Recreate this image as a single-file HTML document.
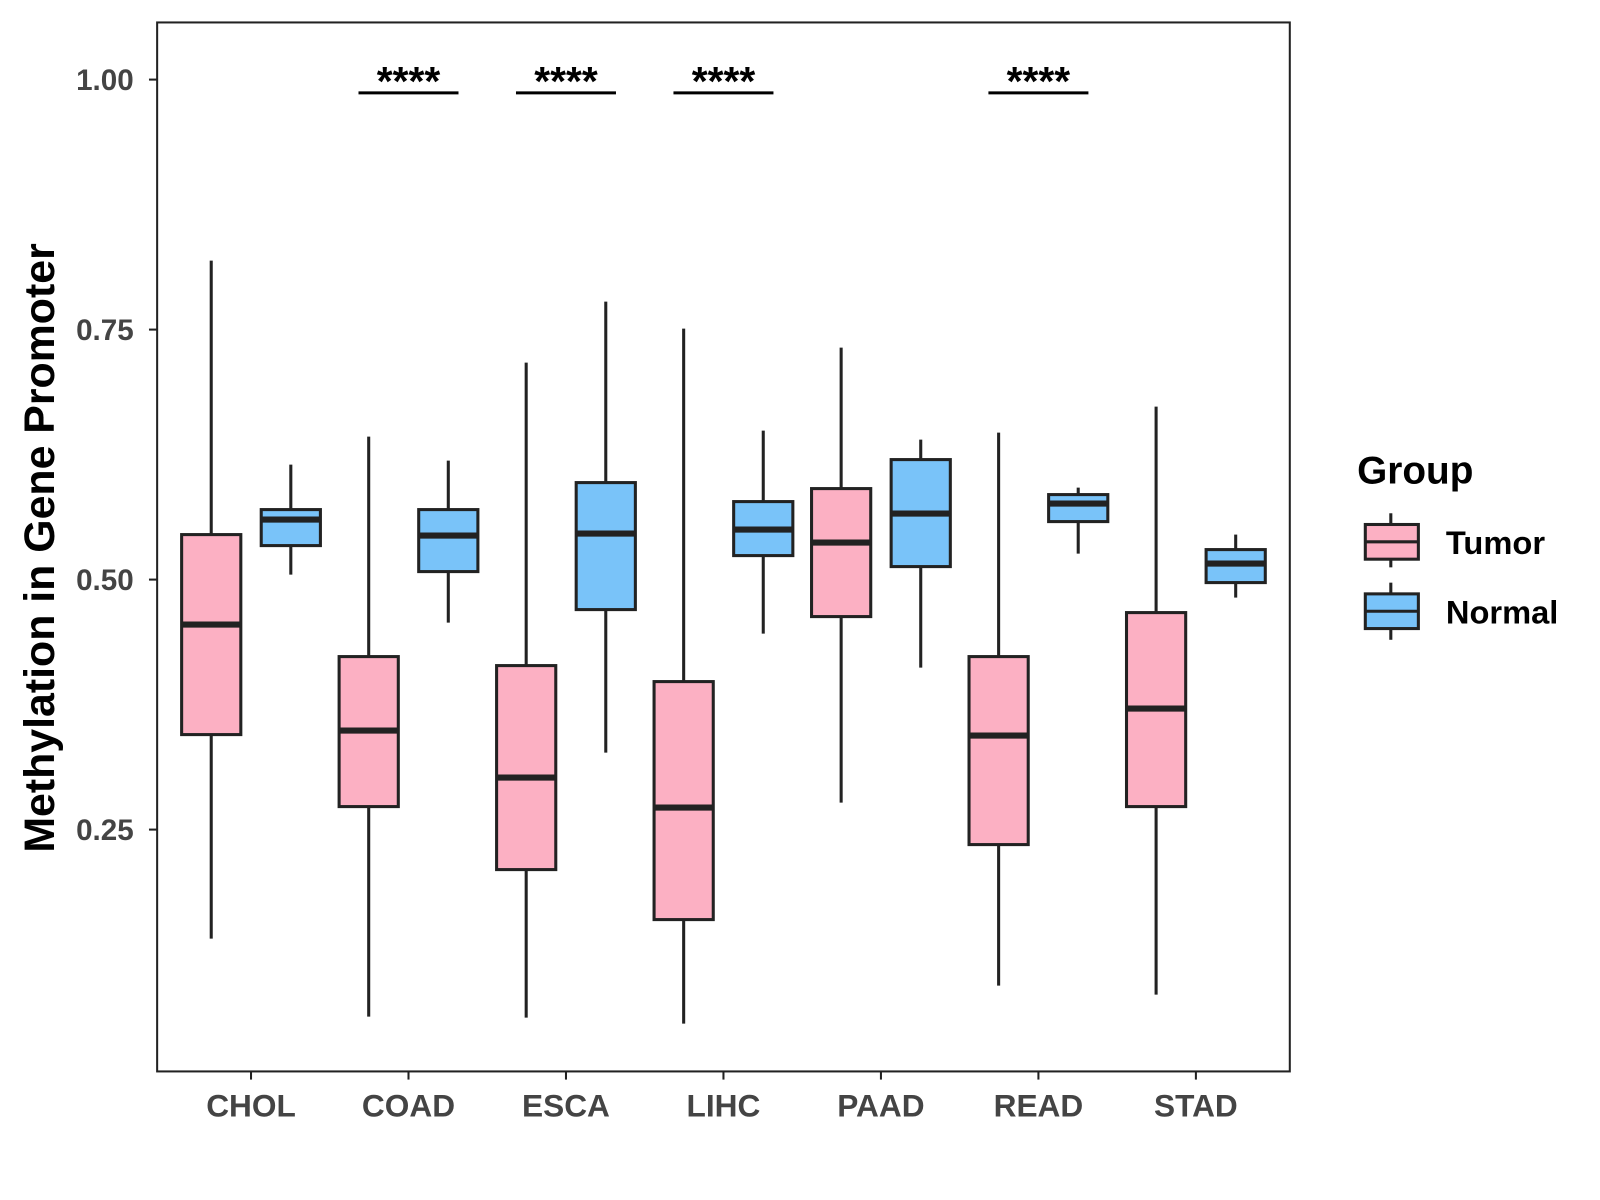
<!DOCTYPE html>
<html><head><meta charset="utf-8"><style>body{margin:0;background:#fff}svg{display:block;font-family:"Liberation Sans",Arial,sans-serif}</style></head>
<body>
<svg id="chart" width="1600" height="1200" viewBox="0 0 1568 1176">
<rect x="154" y="22" width="1110" height="1028" fill="#fff" stroke="#222" stroke-width="2"/>
<g id="axes"></g><g id="marks"></g>
<text x="53" y="537" transform="rotate(-90 53 537)" text-anchor="middle" font-size="42" font-weight="bold" fill="#000">Methylation in Gene Promoter</text>
<g>
<text x="1330" y="474" font-size="38" font-weight="bold">Group</text>
<g>
<line x1="1363" y1="503" x2="1363" y2="556" stroke="#222" stroke-width="3"/>
<rect x="1338" y="514" width="52" height="34" fill="#FCB0C3" stroke="#222" stroke-width="3"/>
<line x1="1338" y1="531" x2="1390" y2="531" stroke="#222" stroke-width="3"/>
<text x="1417" y="543" font-size="32" font-weight="bold">Tumor</text></g>
<g>
<line x1="1363" y1="571" x2="1363" y2="627" stroke="#222" stroke-width="3"/>
<rect x="1338" y="582" width="52" height="34" fill="#79C3F9" stroke="#222" stroke-width="3"/>
<line x1="1338" y1="599" x2="1390" y2="599" stroke="#222" stroke-width="3"/>
<text x="1417" y="611" font-size="32" font-weight="bold">Normal</text></g>
</g>
</svg>
<script>
const categories=["CHOL","COAD","ESCA","LIHC","PAAD","READ","STAD"];
const tumorStats=[[0.141,0.345,0.455,0.545,0.819],[0.063,0.273,0.349,0.423,0.643],[0.062,0.210,0.302,0.414,0.717],[0.056,0.160,0.272,0.398,0.751],[0.277,0.463,0.537,0.591,0.732],[0.094,0.235,0.344,0.423,0.647],[0.085,0.273,0.371,0.467,0.673]];
const normalStats=[[0.505,0.534,0.560,0.570,0.615],[0.457,0.508,0.544,0.570,0.619],[0.327,0.470,0.546,0.597,0.778],[0.446,0.524,0.550,0.578,0.649],[0.412,0.513,0.566,0.620,0.640],[0.526,0.558,0.576,0.585,0.592],[0.482,0.497,0.516,0.530,0.545]];
const significant=["COAD","ESCA","LIHC","READ"];
const yTicks=[0.25,0.5,0.75,1.0];
const yTickLabels=["0.25","0.50","0.75","1.00"];
const NS="http://www.w3.org/2000/svg";
const y=v=>78+(1-v)*980;
const x=i=>246+i*154.33;
function mk(t,a,p){const e=document.createElementNS(NS,t);for(const k in a)e.setAttribute(k,a[k]);p.appendChild(e);return e;}
const axes=document.getElementById('axes'),marks=document.getElementById('marks');
yTicks.forEach((v,i)=>{
const l=mk('line',{x1:146,x2:154,y1:y(v),y2:y(v),stroke:'#222','stroke-width':2},axes);


const t=mk('text',{x:131,y:y(v)+10,'text-anchor':'end','font-size':29,'font-weight':'bold',fill:'#444'},axes);
t.textContent=yTickLabels[i];


});
categories.forEach((c,i)=>{
const l=mk('line',{x1:x(i),x2:x(i),y1:1050,y2:1058,stroke:'#222','stroke-width':2},axes);


const t=mk('text',{x:x(i),y:1094,'text-anchor':'middle','font-size':31,'font-weight':'bold',fill:'#444'},axes);
t.textContent=c;


});
function box(cx,s,fill,name){
const g=mk('g',{},marks);


mk('line',{x1:cx,x2:cx,y1:y(s[4]),y2:y(s[0]),stroke:'#222','stroke-width':3},g);
mk('rect',{x:cx-29,y:y(s[3]),width:58,height:y(s[1])-y(s[3]),fill:fill,stroke:'#222','stroke-width':3},g);
mk('line',{x1:cx-29,x2:cx+29,y1:y(s[2]),y2:y(s[2]),stroke:'#222','stroke-width':6},g);
}
categories.forEach((c,i)=>{
box(x(i)-39,tumorStats[i],'#FCB0C3','box-tumor-'+c.toLowerCase());
box(x(i)+39,normalStats[i],'#79C3F9','box-normal-'+c.toLowerCase());
if(significant.includes(c)){
const g=mk('g',{},marks);


mk('line',{x1:x(i)-49,x2:x(i)+49,y1:91,y2:91,stroke:'#000','stroke-width':3},g);
const t=mk('text',{x:x(i),y:93,'text-anchor':'middle','font-size':40,'font-weight':'bold'},g);
t.textContent='****';
}
});
</script>
</body></html>
